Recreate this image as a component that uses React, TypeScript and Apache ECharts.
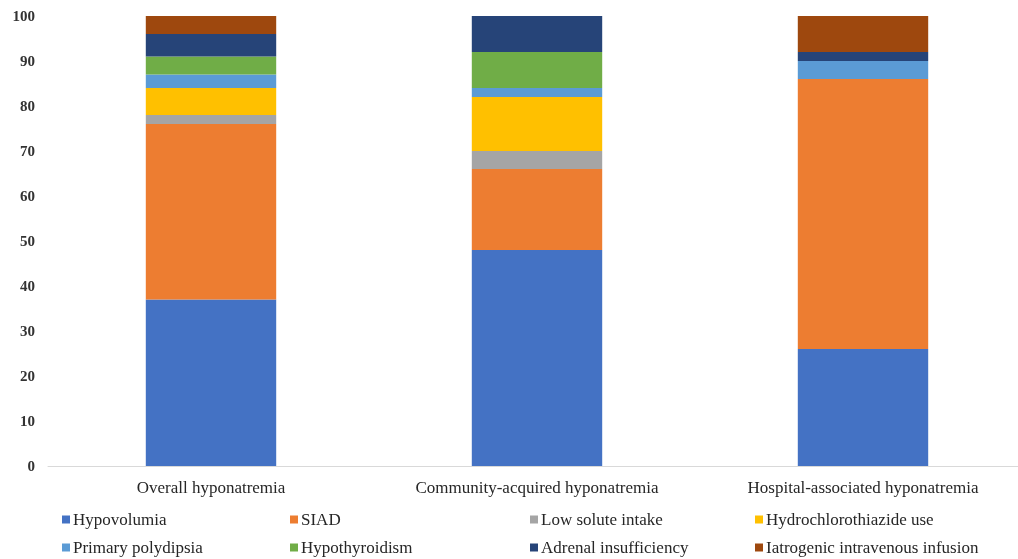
import React, { useEffect, useRef } from "react";
import * as echarts from "echarts";

const categories = ["Overall hyponatremia", "Community-acquired hyponatremia", "Hospital-associated hyponatremia"];
const hypovolumia = [37, 48, 26];
const siad = [39, 18, 60];
const lowSolute = [2, 4, 0];
const hctz = [6, 12, 0];
const primaryPolydipsia = [3, 2, 4];
const hypothyroidism = [4, 8, 0];
const adrenal = [5, 8, 2];
const iatrogenic = [4, 0, 8];
const yTicks = [0, 10, 20, 30, 40, 50, 60, 70, 80, 90, 100];

const seriesDefs = [
  { name: "Hypovolumia", data: hypovolumia, color: "#4472C4" },
  { name: "SIAD", data: siad, color: "#ED7D31" },
  { name: "Low solute intake", data: lowSolute, color: "#A5A5A5" },
  { name: "Hydrochlorothiazide use", data: hctz, color: "#FFC000" },
  { name: "Primary polydipsia", data: primaryPolydipsia, color: "#5B9BD5" },
  { name: "Hypothyroidism", data: hypothyroidism, color: "#70AD47" },
  { name: "Adrenal insufficiency", data: adrenal, color: "#264478" },
  { name: "Iatrogenic intravenous infusion", data: iatrogenic, color: "#9E480E" },
];

const FONT = "'Liberation Serif', 'Times New Roman', serif";

export default function App() {
  const ref = useRef<HTMLDivElement>(null);
  useEffect(() => {
    if (!ref.current) return;
    const chart = echarts.init(ref.current, null, { renderer: "svg" });
    const legendCols = [62, 290, 530, 755];
    const legends = legendCols.map((left, i) => ({
      orient: "vertical",
      left,
      top: 511,
      height: 48,
      padding: 0,
      itemWidth: 8,
      itemHeight: 8,
      itemGap: 11,
      icon: "rect",
      selectedMode: false,
      data: [seriesDefs[i].name, seriesDefs[i + 4].name],
      textStyle: { fontFamily: FONT, fontSize: 17, color: "#262626", lineHeight: 17, padding: [0, 0, 0, -2] },
    }));
    chart.setOption({
      animation: false,
      textStyle: { fontFamily: FONT },
      legend: legends,
      grid: { left: 48, right: 0, top: 16, bottom: 93 },
      xAxis: {
        type: "category",
        data: categories,
        axisLine: { lineStyle: { color: "#D9D9D9", width: 1 } },
        axisTick: { show: false },
        axisLabel: { fontFamily: FONT, fontSize: 17, color: "#262626", margin: 13 },
      },
      yAxis: {
        type: "value",
        min: 0,
        max: 100,
        interval: 10,
        axisLine: { show: false },
        axisTick: { show: false },
        splitLine: { show: false },
        axisLabel: {
          fontFamily: FONT,
          fontSize: 15,
          fontWeight: "bold",
          color: "#333",
          margin: 13,
          formatter: (v: number) => (yTicks.includes(v) ? String(v) : ""),
        },
      },
      series: seriesDefs.map((s) => ({
        name: s.name,
        type: "bar",
        stack: "total",
        barWidth: "40%",
        data: s.data,
        itemStyle: { color: s.color },
      })),
    });
    return () => chart.dispose();
  }, []);
  return (
    <div style={{ position: "fixed", left: 0, top: 0, width: 1018, height: 559, overflow: "hidden" }}>
      <div ref={ref} style={{ width: 1026, height: 559 }} />
    </div>
  );
}
